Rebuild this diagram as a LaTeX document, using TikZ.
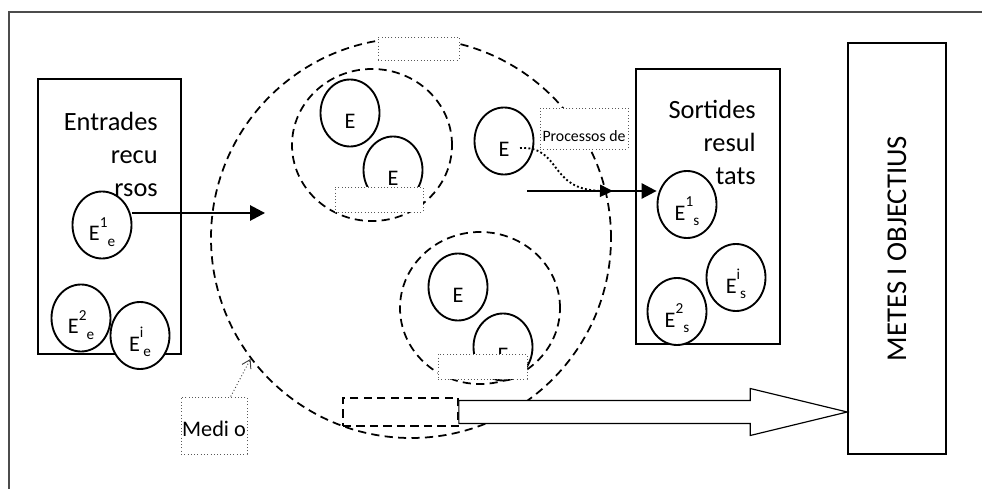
\documentclass[tikz,border=0pt]{standalone}
\usepackage{fontspec}
\setmainfont{Carlito}
\usepackage{graphicx}
\usetikzlibrary{arrows.meta,shapes.geometric,calc}
\newcommand{\Eidx}[2]{E\raisebox{0.6em}{\fontsize{13}{15}\selectfont#1}\raisebox{-0.25em}{\fontsize{13}{15}\selectfont#2}}
\tikzset{
  frame/.style={draw=black!70, line width=0.9pt},
  box/.style={draw=black, line width=1.6pt, fill=white, inner sep=0pt},
  zone/.style={draw=black, line width=1.5pt, dash pattern=on 7pt off 4.5pt, inner sep=0pt},
  ent/.style={ellipse, draw=black, line width=1.6pt, fill=white, minimum width=1.77cm, minimum height=2.01cm,
    inner sep=0pt, text height=0.95cm, text depth=0pt, font=\fontsize{19}{22}\selectfont},
  note/.style={draw=black!65, dotted, line width=0.8pt, fill=white, inner sep=0pt},
  txt/.style={align=right, inner sep=0pt, font=\fontsize{22.5}{28}\selectfont},
  flow/.style={-{Triangle[length=4.5mm,width=4.6mm]}, line width=1.6pt},
  procflow/.style={-{Triangle[length=3.9mm,width=3.6mm]}, line width=1.6pt, dotted},
  mediflow/.style={-{Straight Barb[length=2.4mm,width=3mm]}, line width=0.8pt, dotted, draw=black!75},
  hollow/.style={draw=black, line width=1pt, fill=white}
}
\begin{document}
\begin{tikzpicture}[x=0.03cm, y=-0.03cm]
  \useasboundingbox (0,0) rectangle (982,489);
  \draw[frame] (9,489) -- (9,12) -- (982,12);

  % entrades i sortides
  \node[box, minimum width=4.29cm, minimum height=8.25cm] (entbox) at (109.5,216.5) {};
  \node[box, minimum width=4.32cm, minimum height=8.25cm] (sortbox) at (708,206.5) {};
  \node[box, line width=1.3pt, minimum width=2.94cm, minimum height=12.33cm, font=\fontsize{24.5}{28}\selectfont] (metes) at (897,248.5) {\rotatebox{90}{METES I OBJECTIUS}};

  % medi i processos
  \node[zone, circle, minimum size=12cm] (entorn) at (411,238) {};
  \node[zone, ellipse, minimum width=4.8cm, minimum height=4.56cm] (procA) at (372,145) {};
  \node[zone, ellipse, minimum width=4.8cm, minimum height=4.56cm] (procB) at (480,308) {};

  \node[ent] (e1e) at (102,225) {\Eidx{1}{e}};
  \node[ent] (e2e) at (81,318) {\Eidx{2}{e}};
  \node[ent] (eie) at (140,335.5) {\Eidx{i}{e}};
  \node[ent] (e1s) at (687,204.5) {\Eidx{1}{s}};
  \node[ent] (eis) at (736,277.5) {\Eidx{i}{s}};
  \node[ent] (e2s) at (677,311.5) {\Eidx{2}{s}};
  \node[ent] (eA1) at (350,113) {E};
  \node[ent] (eA2) at (393,170) {E};
  \node[ent] (eproc) at (504,141) {E};
  \node[ent] (eB1) at (458,287) {E};
  \node[ent] (eB2) at (503,347) {E};

  \node[txt, anchor=north east] (enttxt) at ($(entbox.north east)+(-24,34)$) {Entrades\\recu\\rsos};
  \node[txt, anchor=north east] (sorttxt) at ($(sortbox.north east)+(-25,32)$) {Sortides\\resul\\tats};

  % etiquetes
  \node[note, minimum width=2.43cm, minimum height=0.69cm] (toplbl) at (418.5,48.5) {};
  \node[note, minimum width=2.64cm, minimum height=0.75cm] (lblA) at (379,199.5) {};
  \node[note, minimum width=2.67cm, minimum height=0.75cm] (lblB) at (482.5,366.5) {};
  \node[note, minimum width=2.64cm, minimum height=1.23cm, text height=0.85cm, text depth=0.05cm,
    font=\fontsize{13.5}{15}\selectfont] (proclbl) at (584,128.5) {Processos de};
  \node[note, minimum width=1.98cm, minimum height=1.71cm, text height=0.7cm, text depth=0.07cm,
    font=\fontsize{19}{21}\selectfont] (medilbl) at (214,425.5) {Medi o};
  \node[zone, minimum width=3.45cm, minimum height=0.84cm] (lim) at (400.5,412) {};

  % fletxes
  \coordinate (in1) at (265,213);
  \coordinate (out1) at (527,191);
  \coordinate (procend) at (613,191);
  \draw[flow] (in1 -| e1e.east) -- (in1);
  \draw[flow] (out1) -- (out1 -| e1s.west);
  \draw[procflow] ($(eproc)+(16,7)$) .. controls (562,146) and (548,190) .. (procend);
  \draw[mediflow] (medilbl.60) -- (entorn.217);

  \coordinate (tip) at (metes.west |- lim.east);
  \draw[hollow] ($(lim.east)+(0,-11.5)$) -- ($(tip)+(-97,-11.5)$) -- ($(tip)+(-97,-23.5)$) -- (tip)
    -- ($(tip)+(-97,23.5)$) -- ($(tip)+(-97,11.5)$) -- ($(lim.east)+(0,11.5)$) -- cycle;
\end{tikzpicture}
\end{document}
